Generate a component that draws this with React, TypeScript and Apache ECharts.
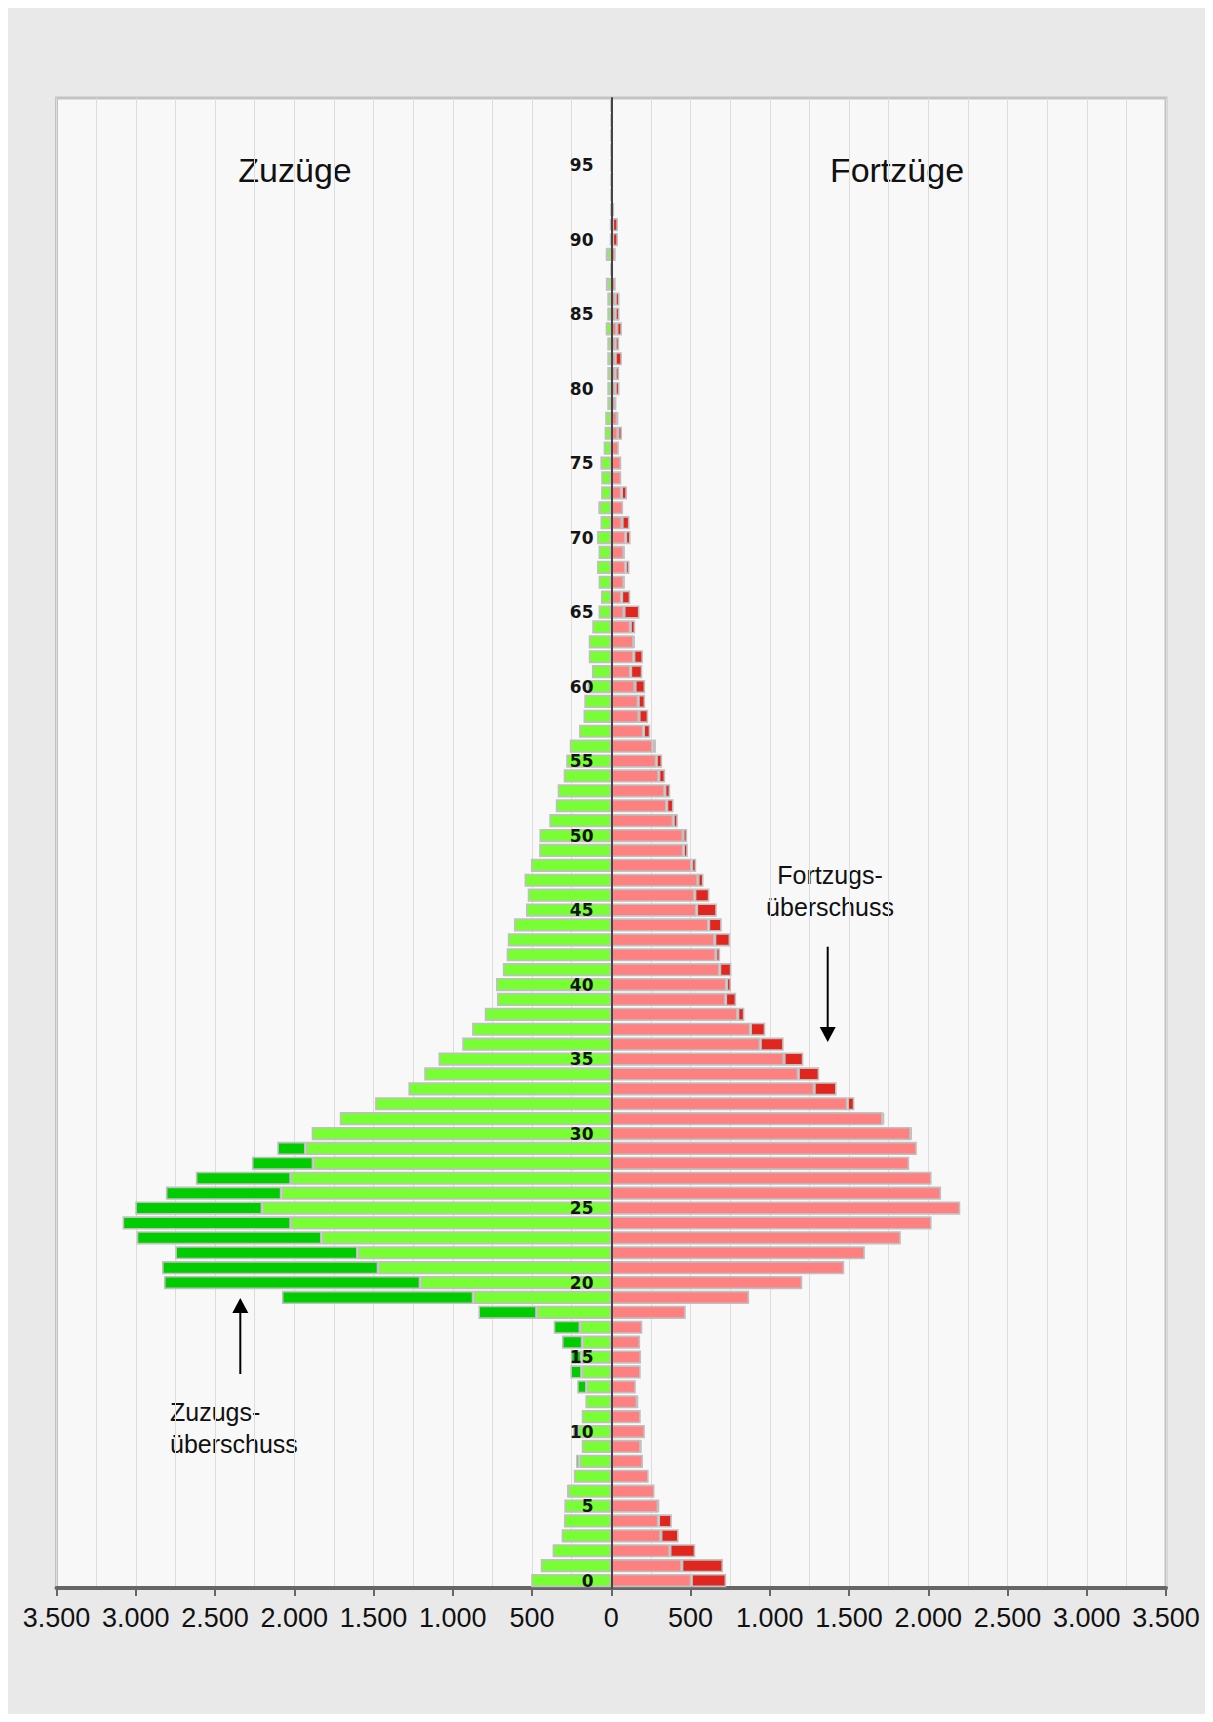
import React, { useEffect, useRef } from "react";
import * as echarts from "echarts";

// Altersjahre 0..99
const ages: string[] = Array.from({ length: 100 }, (_, i) => String(i));

// Zuzüge je Altersjahr (0..99)
const zuzuege: number[] = [
  505, 445, 370, 313, 298, 296, 275, 236, 222, 186,
  240, 186, 163, 215, 258, 255, 311, 363, 838, 2078,
  2822, 2834, 2750, 2994, 3083, 3003, 2810, 2621, 2267, 2107,
  1890, 1713, 1490, 1280, 1180, 1090, 940, 878, 798, 721,
  727, 684, 660, 653, 614, 538, 527, 547, 507, 455,
  453, 391, 350, 338, 300, 284, 262, 203, 175, 170,
  150, 122, 142, 142, 120, 80, 65, 80, 90, 80,
  90, 68, 78, 64, 63, 64, 48, 42, 38, 25,
  25, 25, 25, 25, 35, 25, 25, 30, 3, 32,
  8, 8, 3, 2, 1, 0, 0, 0, 0, 0,
];

// Fortzüge je Altersjahr (0..99)
const fortzuege: number[] = [
  725, 705, 530, 425, 382, 300, 273, 236, 200, 188,
  212, 186, 168, 155, 186, 188, 182, 196, 470, 870,
  1205, 1470, 1600, 1827, 2021, 2202, 2081, 2021, 1880, 1928,
  1895, 1722, 1534, 1422, 1312, 1212, 1088, 972, 840, 788,
  756, 758, 687, 750, 697, 666, 619, 582, 536, 483,
  479, 420, 393, 372, 340, 321, 282, 246, 233, 214,
  214, 196, 200, 147, 151, 178, 120, 82, 115, 82,
  122, 115, 75, 99, 63, 63, 48, 68, 42, 30,
  52, 50, 67, 50, 67, 52, 52, 28, 10, 28,
  42, 42, 18, 5, 3, 2, 1, 1, 0, 0,
];

const xMin = -3500;
const xMax = 3500;

const fmt = (v: number): string => {
  const a = Math.abs(Math.round(v));
  if (a >= 1000) return Math.floor(a / 1000) + "." + String(a % 1000).padStart(3, "0");
  return String(a);
};

export default function App() {
  const ref = useRef<HTMLDivElement>(null);

  useEffect(() => {
    if (!ref.current) return;
    const chart = echarts.init(ref.current, undefined, { renderer: "svg" });

    const leftLight = zuzuege.map((z, i) => -Math.min(z, fortzuege[i]));
    const leftDark = zuzuege.map((z, i) => (z > fortzuege[i] ? -(z - fortzuege[i]) : "-"));
    const rightLight = zuzuege.map((z, i) => Math.min(z, fortzuege[i]));
    const rightDark = zuzuege.map((z, i) => (fortzuege[i] > z ? fortzuege[i] - z : "-"));

    const barBase = {
      type: "bar",
      stack: "all",
      barWidth: 13.2,
      silent: true,
    };
    const border = { borderColor: "#c0c0c0", borderWidth: 1.6 };

    const txt = "'Liberation Sans', Arial, sans-serif";

    const gridLeft = 48.5;

    chart.setOption({
      animation: false,
      backgroundColor: "transparent",
      grid: {
        left: gridLeft,
        right: 39,
        top: 90,
        bottom: 126,
        show: true,
        backgroundColor: "#f8f8f8",
        borderColor: "#c3c3c3",
        borderWidth: 3,
      },
      xAxis: {
        type: "value",
        min: xMin,
        max: xMax,
        interval: 500,
        axisLine: { show: true, lineStyle: { color: "#666666", width: 4 } },
        axisTick: { show: true, length: 8, lineStyle: { color: "#666666", width: 2 } },
        axisLabel: {
          formatter: (v: number) => fmt(v),
          fontSize: 27,
          fontFamily: txt,
          color: "#111111",
          margin: 16,
        },
        splitLine: { show: true, lineStyle: { color: "#dcdcdc", width: 1 } },
        minorTick: { show: false, splitNumber: 2 },
        minorSplitLine: { show: true, lineStyle: { color: "#dcdcdc", width: 1 } },
      },
      yAxis: {
        type: "category",
        data: ages,
        z: 10,
        axisLine: { show: true, onZero: true, lineStyle: { color: "#444444", width: 2 } },
        axisTick: { show: false },
        splitLine: { show: false },
        axisLabel: {
          interval: (index: number) => index % 5 === 0,
          fontSize: 17,
          fontWeight: "bold",
          fontFamily: "'DejaVu Sans', sans-serif",
          color: "#151515",
          margin: -537,
        },
      },
      series: [
        { ...barBase, name: "Zuzüge", data: leftLight, itemStyle: { color: "#77ff33", ...border } },
        { ...barBase, name: "Zuzugsüberschuss", data: leftDark, itemStyle: { color: "#00cc00", ...border } },
        { ...barBase, name: "Fortzüge", data: rightLight, itemStyle: { color: "#ff8080", ...border } },
        { ...barBase, name: "Fortzugsüberschuss", data: rightDark, itemStyle: { color: "#e0261e", ...border } },
      ],
      graphic: [
        {
          type: "text",
          x: 287,
          y: 162,
          style: { text: "Zuzüge", font: `34px ${txt}`, fill: "#111", textAlign: "center", textVerticalAlign: "middle" },
        },
        {
          type: "text",
          x: 889,
          y: 162,
          style: { text: "Fortzüge", font: `34px ${txt}`, fill: "#111", textAlign: "center", textVerticalAlign: "middle" },
        },
        {
          type: "text",
          x: 822,
          y: 867,
          style: { text: "Fortzugs-", font: `25px ${txt}`, fill: "#111", textAlign: "center", textVerticalAlign: "middle" },
        },
        {
          type: "text",
          x: 822,
          y: 899,
          style: { text: "überschuss", font: `25px ${txt}`, fill: "#111", textAlign: "center", textVerticalAlign: "middle" },
        },
        {
          type: "text",
          x: 162,
          y: 1404,
          style: { text: "Zuzugs-", font: `25px ${txt}`, fill: "#111", textAlign: "left", textVerticalAlign: "middle" },
        },
        {
          type: "text",
          x: 162,
          y: 1436,
          style: { text: "überschuss", font: `25px ${txt}`, fill: "#111", textAlign: "left", textVerticalAlign: "middle" },
        },
        {
          type: "line",
          shape: { x1: 819.7, y1: 938.7, x2: 819.7, y2: 1022 },
          style: { stroke: "#000", lineWidth: 2 },
        },
        {
          type: "polygon",
          shape: { points: [[811.7, 1019], [827.7, 1019], [819.7, 1034]] },
          style: { fill: "#000" },
        },
        {
          type: "line",
          shape: { x1: 232.3, y1: 1366, x2: 232.3, y2: 1302 },
          style: { stroke: "#000", lineWidth: 2 },
        },
        {
          type: "polygon",
          shape: { points: [[224.3, 1305], [240.3, 1305], [232.3, 1290]] },
          style: { fill: "#000" },
        },
      ],
    });

    return () => chart.dispose();
  }, []);

  return (
    <div
      ref={ref}
      style={{ width: 1197, height: 1706, background: "#e9e9e9" }}
    />
  );
}
